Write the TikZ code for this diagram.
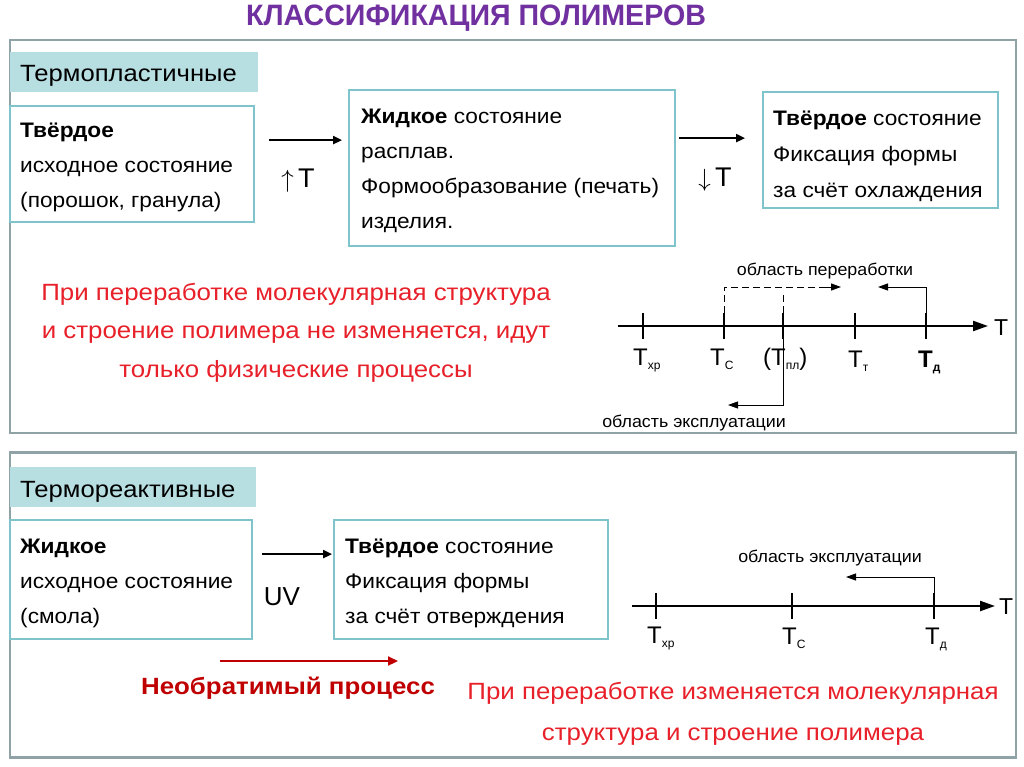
\documentclass[tikz,border=0pt]{standalone}
\usepackage{fontspec}
\setmainfont{Liberation Sans}
\usetikzlibrary{arrows.meta,calc}
\definecolor{framegray}{HTML}{8FA3A6}
\definecolor{boxteal}{HTML}{7FC4CA}
\definecolor{labfill}{HTML}{B7DEE1}
\definecolor{titlepurple}{HTML}{7030A0}
\definecolor{brightred}{HTML}{E8202A}
\definecolor{darkred}{HTML}{C00000}
\tikzset{
  frame/.style={draw=framegray, line width=2.5pt, fill=white},
  labbox/.style={fill=labfill, draw=none, inner sep=0pt},
  box/.style={draw=boxteal, line width=1.8pt, fill=white, inner sep=0pt},
  txt/.style={anchor=base west, inner sep=0pt, xscale=1.08, font=\fontsize{21}{23}\selectfont},
  btxt/.style={txt, font=\fontsize{21}{23}\selectfont\bfseries},
  labtxt/.style={anchor=base west, inner sep=0pt, xscale=1.09, font=\fontsize{23.5}{25}\selectfont},
  redtxt/.style={anchor=base, inner sep=0pt, xscale=1.1, text=brightred, font=\fontsize{23.5}{25}\selectfont},
  bigtxt/.style={anchor=base, inner sep=0pt, font=\fontsize{27}{29}\selectfont},
  arr/.style={line width=2pt, -{Triangle[length=9pt,width=8pt]}},
  axis/.style={line width=2.2pt, -{Triangle[length=15pt,width=10pt]}},
  tick/.style={line width=2pt},
  thin/.style={line width=1pt, -{Triangle[length=10pt,width=7pt]}},
  dsh/.style={line width=1pt, dash pattern=on 7pt off 4pt},
  axlab/.style={anchor=base, inner sep=0pt, font=\fontsize{24}{26}\selectfont},
  smalltxt/.style={anchor=base, inner sep=0pt, xscale=1.05, font=\fontsize{17}{19}\selectfont},
}
\newcommand{\subs}[1]{\raisebox{-4pt}{\fontsize{12}{12}\selectfont #1}}
\begin{document}
\begin{tikzpicture}[x=1pt,y=-1pt]
\useasboundingbox[fill=white] (0,0) rectangle (1024,767);
% title
\node[anchor=base, inner sep=0pt, text=titlepurple, font=\fontsize{29.5}{31}\selectfont\bfseries, xscale=0.97] (title) at (476,26) {КЛАССИФИКАЦИЯ ПОЛИМЕРОВ};
% frames
\node[frame, minimum width=1006, minimum height=393, inner sep=0pt] (f1) at (513,236.5) {};
\node[frame, minimum width=1006, minimum height=305, inner sep=0pt] (f2) at (513,605) {};
% ---------- section 1
\node[labbox, minimum width=248, minimum height=40] (l1) at (134,72) {};
\node[labtxt] (l1t) at (20,82) {Термопластичные};
\node[box, minimum width=244, minimum height=116] (b1) at (132,164) {};
\node[btxt] (b1a) at (20,138) {Твёрдое};
\node[txt] (b1b) at (20,173) {исходное состояние};
\node[txt] (b1c) at (20,208) {(порошок, гранула)};
\node[box, minimum width=326, minimum height=156] (b2) at (512,168) {};
\node[txt] (b2a) at (361,124) {\textbf{Жидкое} состояние};
\node[txt] (b2b) at (361,159) {расплав.};
\node[txt] (b2c) at (361,194) {Формообразование (печать)};
\node[txt] (b2d) at (361,229) {изделия.};
\node[box, minimum width=235, minimum height=116] (b3) at (880.5,150) {};
\node[txt] (b3a) at (773,126) {\textbf{Твёрдое} состояние};
\node[txt] (b3b) at (773,162) {Фиксация формы};
\node[txt] (b3c) at (773,198) {за счёт охлаждения};
\draw[arr] ($(b1.north east)+(14,35)$) coordinate (a1s) -- ($(b2.west |- a1s)+(-6,0)$) coordinate (a1e);
\node[bigtxt] (a1l) at (298,188) {$\uparrow$\,T};
\draw[arr] ($(b2.north east)+(3,49)$) coordinate (a2s) -- ($(b3.west |- a2s)+(-17,0)$) coordinate (a2e);
\node[bigtxt] (a2l) at (715,187) {$\downarrow$\,T};
\node[redtxt] (r1) at (296,300) {При переработке молекулярная структура};
\node[redtxt] (r2) at (296,338) {и строение полимера не изменяется, идут};
\node[redtxt] (r3) at (296,377) {только физические процессы};
% axis 1
\coordinate (ax1s) at (618,326);
\coordinate (ax1e) at (988,326);
\draw[axis] (ax1s) -- (ax1e);
\node[anchor=base west, inner sep=0pt, font=\fontsize{23}{25}\selectfont] (ax1T) at (994,335) {T};
\foreach \n/\x in {t1/643, t2/724, t3/783, t4/855, t5/926}{
  \coordinate (\n u) at (\x,313);
  \coordinate (\n d) at (\x,339);
  \draw[tick] (\n u) -- (\n d);
}
\node[axlab, anchor=base west] (tl1) at (633,365) {T\subs{хр}};
\node[axlab, anchor=base west] (tl2) at (710,365) {T\subs{C}};
\node[axlab, anchor=base west] (tl3) at (763,365) {(T\subs{пл})};
\node[axlab, anchor=base west] (tl4) at (848,367) {T\subs{т}};
\node[axlab, anchor=base west] (tl5) at (918,367) {\textbf{T}\subs{\bfseries д}};
\coordinate (d1) at (724,287);
\coordinate (d1e) at (841,287);
\draw[dsh] (t2u) -- (d1) -- (826,287);
\draw[thin] (826,287) -- (d1e);
\draw[dsh] (t3u) -- (783,292);
\coordinate (p1) at (926,287);
\coordinate (p1e) at (878,287);
\draw[thin] (t5u) -- (p1) -- (p1e);
\node[smalltxt] (pr) at (825,275) {область переработки};
\coordinate (e1) at (783,405);
\coordinate (e1e) at (728,405);
\draw[thin] (t3d) -- (e1) -- (e1e);
\node[smalltxt] (ex1) at (694,427) {область эксплуатации};
% ---------- section 2
\node[labbox, minimum width=246, minimum height=40] (l2) at (133,487) {};
\node[labtxt] (l2t) at (20,497) {Термореактивные};
\node[box, minimum width=242, minimum height=119] (b4) at (131,579.5) {};
\node[btxt] (b4a) at (20,553) {Жидкое};
\node[txt] (b4b) at (20,588) {исходное состояние};
\node[txt] (b4c) at (20,623) {(смола)};
\node[box, minimum width=274, minimum height=119] (b5) at (471,579.5) {};
\node[txt] (b5a) at (345,553) {\textbf{Твёрдое} состояние};
\node[txt] (b5b) at (345,588) {Фиксация формы};
\node[txt] (b5c) at (345,623) {за счёт отверждения};
\draw[arr] ($(b4.north east)+(9,35)$) coordinate (a3s) -- ($(b5.west |- a3s)+(-1,0)$) coordinate (a3e);
\node[anchor=base, inner sep=0pt, font=\fontsize{26}{28}\selectfont] (a3l) at (282,605) {UV};
\coordinate (ir1) at (220,661);
\coordinate (ir2) at (398,661);
\draw[line width=2.2pt, draw=darkred, -{Triangle[length=10pt,width=9pt]}, darkred] (ir1) -- (ir2);
\node[anchor=base, inner sep=0pt, xscale=1.1, text=darkred, font=\fontsize{23.5}{25}\selectfont\bfseries] (irt) at (288,694) {Необратимый процесс};
\node[redtxt] (r4) at (733,699) {При переработке изменяется молекулярная};
\node[redtxt] (r5) at (733,740) {структура и строение полимера};
% axis 2
\coordinate (ax2s) at (632,606);
\coordinate (ax2e) at (995,606);
\draw[axis] (ax2s) -- (ax2e);
\node[anchor=base west, inner sep=0pt, font=\fontsize{23}{25}\selectfont] (ax2T) at (999,614) {T};
\foreach \n/\x in {s1/656, s2/792, s3/934}{
  \coordinate (\n u) at (\x,593);
  \coordinate (\n d) at (\x,619);
  \draw[tick] (\n u) -- (\n d);
}
\node[axlab, anchor=base west] (sl1) at (647,643) {T\subs{хр}};
\node[axlab, anchor=base west] (sl2) at (782,644) {T\subs{C}};
\node[axlab, anchor=base west] (sl3) at (925,644) {T\subs{д}};
\coordinate (q1) at (934,577);
\coordinate (q1e) at (846,577);
\draw[thin] (s3u) -- (q1) -- (q1e);
\node[smalltxt] (ex2) at (830,562) {область эксплуатации};
\end{tikzpicture}
\end{document}
